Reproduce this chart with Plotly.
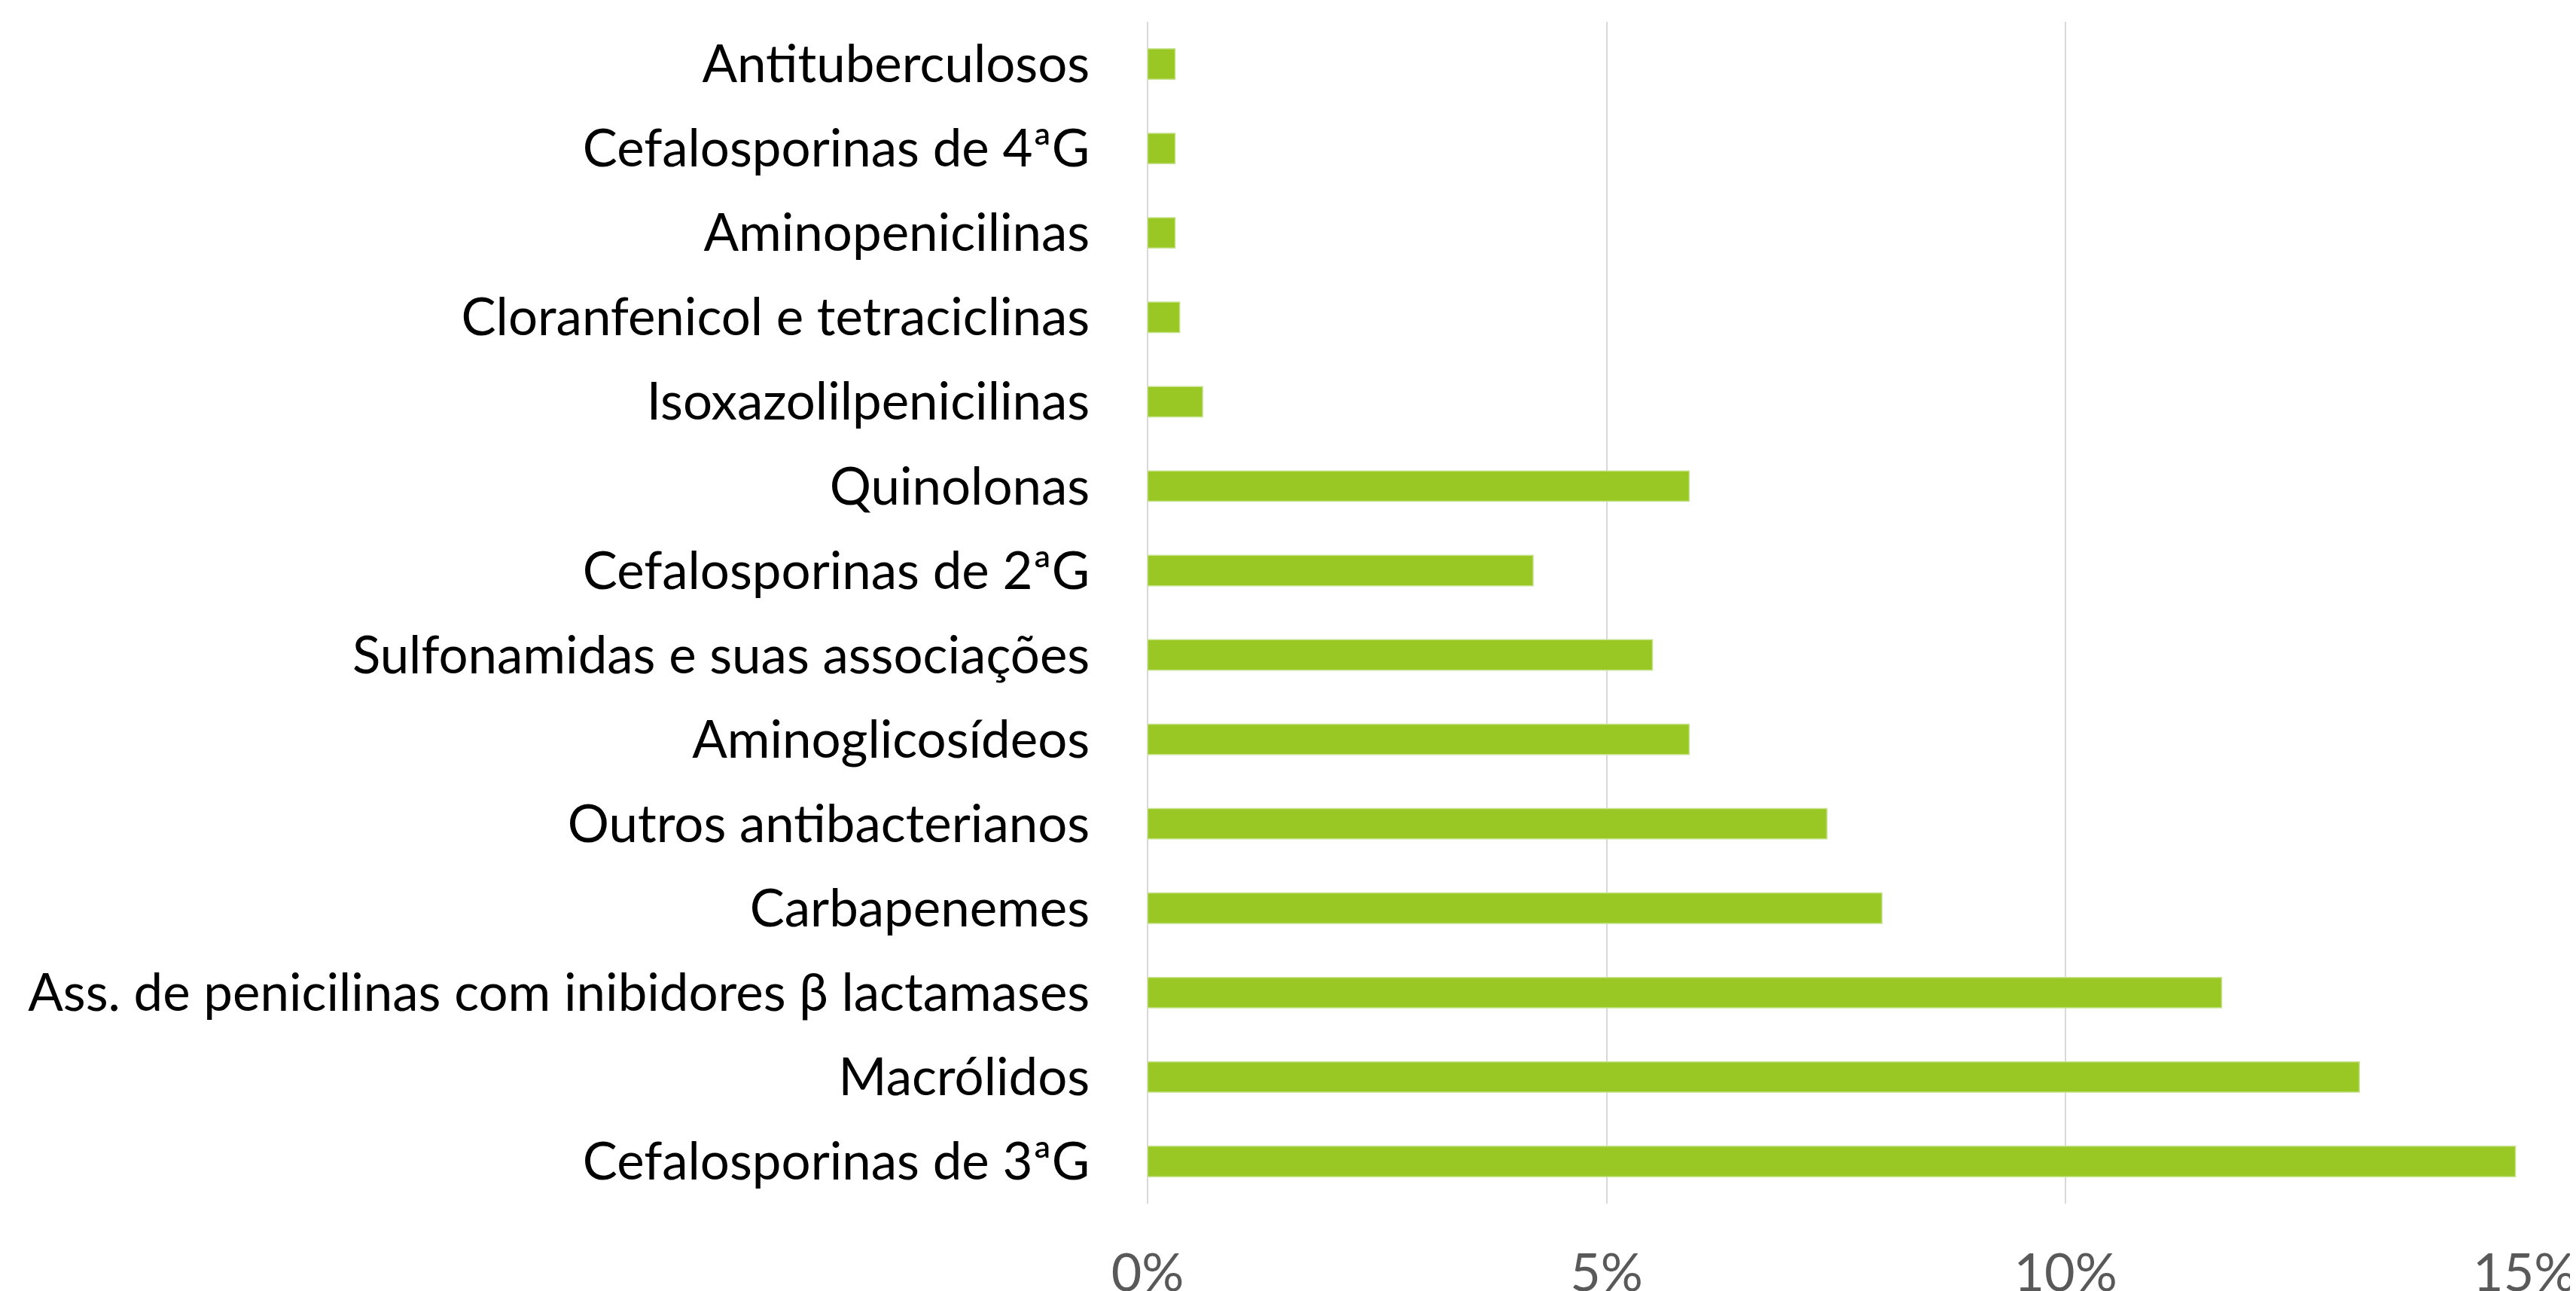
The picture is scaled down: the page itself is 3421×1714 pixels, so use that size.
import plotly.graph_objects as go

categories = [
    "Cefalosporinas de 3ªG",
    "Macrólidos",
    "Ass. de penicilinas com inibidores β lactamases",
    "Carbapenemes",
    "Outros antibacterianos",
    "Aminoglicosídeos",
    "Sulfonamidas e suas associações",
    "Cefalosporinas de 2ªG",
    "Quinolonas",
    "Isoxazolilpenicilinas",
    "Cloranfenicol e tetraciclinas",
    "Aminopenicilinas",
    "Cefalosporinas de 4ªG",
    "Antituberculosos",
]
values = [14.9, 13.2, 11.7, 8.0, 7.4, 5.9, 5.5, 4.2, 5.9, 0.6, 0.35, 0.3, 0.3, 0.3]

tick_vals = [0, 5, 10, 15]
tick_text = ["0%", "5%", "10%", "15%"]

fig = go.Figure(go.Bar(
    x=values,
    y=categories,
    orientation="h",
    marker=dict(color="#99C824", line=dict(color="#C8E290", width=1.5)),
))

# the page body has an 8px margin, so the figure is sized/offset to compensate
fig.update_layout(
    width=3413,
    height=1706,
    margin=dict(l=1516, r=68, t=21, b=116),
    paper_bgcolor="white",
    plot_bgcolor="white",
    bargap=0.64,
    showlegend=False,
    font=dict(family="Lato, Open Sans, sans-serif"),
)
fig.update_xaxes(
    automargin=False,
    range=[0, 15.002],
    tickvals=tick_vals,
    ticktext=tick_text,
    showgrid=True,
    gridcolor="#D9D9D9",
    gridwidth=2,
    zeroline=True,
    zerolinecolor="#D9D9D9",
    zerolinewidth=2,
    showline=False,
    ticks="outside",
    ticklen=31,
    tickcolor="rgba(0,0,0,0)",
    tickfont=dict(size=70, color="#595959"),
    ticklabeloverflow="allow",
)
fig.update_yaxes(
    automargin=False,
    categoryorder="array",
    categoryarray=categories,
    showgrid=False,
    showline=False,
    ticks="outside",
    ticklen=62,
    tickcolor="rgba(0,0,0,0)",
    tickfont=dict(size=69, color="#000000"),
)

fig.write_html("out.html")
